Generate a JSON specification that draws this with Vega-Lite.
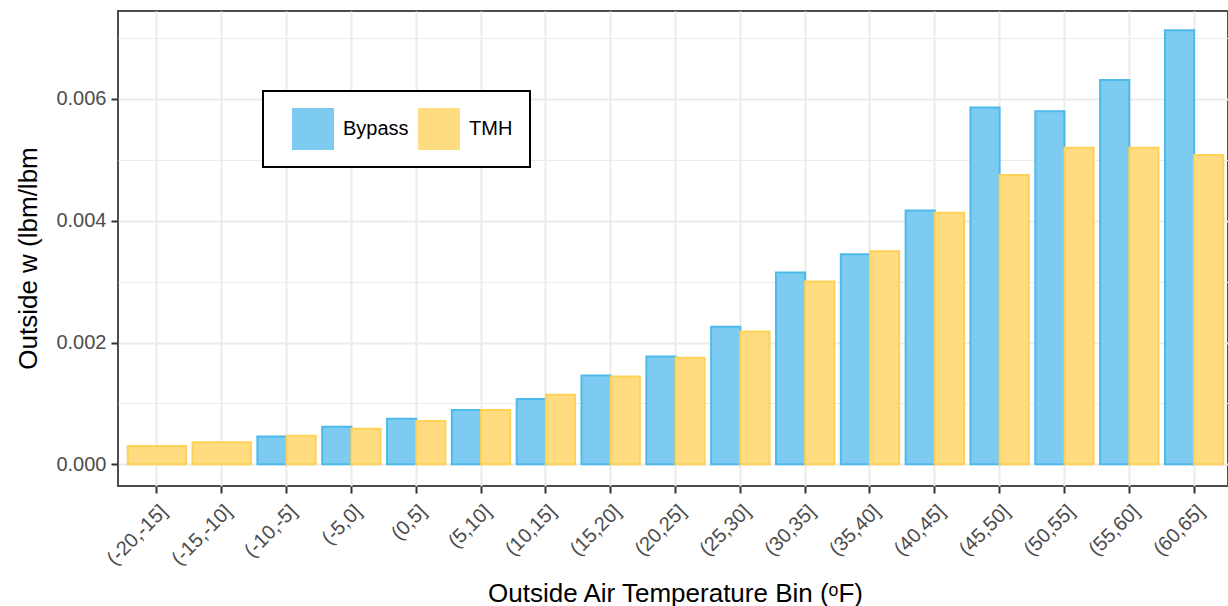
{
  "$schema": "https://vega.github.io/schema/vega-lite/v6.json",
  "width": 1110,
  "height": 475,
  "autosize": {"type": "none"},
  "padding": {"left": 118, "top": 11, "right": 0, "bottom": 120},
  "background": "white",
  "config": {
    "font": "Liberation Sans",
    "view": {"stroke": "#4d4d4d", "strokeWidth": 2},
    "legend": {"strokeWidth": 2}
  },
  "data": {
    "values": [
      {"bin": "(-20,-15]", "series": "TMH", "w": 0.000302},
      {"bin": "(-15,-10]", "series": "TMH", "w": 0.000363},
      {"bin": "(-10,-5]", "series": "Bypass", "w": 0.000455},
      {"bin": "(-10,-5]", "series": "TMH", "w": 0.000467},
      {"bin": "(-5,0]", "series": "Bypass", "w": 0.000615},
      {"bin": "(-5,0]", "series": "TMH", "w": 0.000582},
      {"bin": "(0,5]", "series": "Bypass", "w": 0.000747},
      {"bin": "(0,5]", "series": "TMH", "w": 0.000709},
      {"bin": "(5,10]", "series": "Bypass", "w": 0.00089},
      {"bin": "(5,10]", "series": "TMH", "w": 0.00089},
      {"bin": "(10,15]", "series": "Bypass", "w": 0.00107},
      {"bin": "(10,15]", "series": "TMH", "w": 0.00114},
      {"bin": "(15,20]", "series": "Bypass", "w": 0.00146},
      {"bin": "(15,20]", "series": "TMH", "w": 0.00144},
      {"bin": "(20,25]", "series": "Bypass", "w": 0.00177},
      {"bin": "(20,25]", "series": "TMH", "w": 0.00175},
      {"bin": "(25,30]", "series": "Bypass", "w": 0.00226},
      {"bin": "(25,30]", "series": "TMH", "w": 0.00218},
      {"bin": "(30,35]", "series": "Bypass", "w": 0.00315},
      {"bin": "(30,35]", "series": "TMH", "w": 0.00300},
      {"bin": "(35,40]", "series": "Bypass", "w": 0.00345},
      {"bin": "(35,40]", "series": "TMH", "w": 0.00350},
      {"bin": "(40,45]", "series": "Bypass", "w": 0.00417},
      {"bin": "(40,45]", "series": "TMH", "w": 0.00413},
      {"bin": "(45,50]", "series": "Bypass", "w": 0.00586},
      {"bin": "(45,50]", "series": "TMH", "w": 0.00475},
      {"bin": "(50,55]", "series": "Bypass", "w": 0.00580},
      {"bin": "(50,55]", "series": "TMH", "w": 0.00520},
      {"bin": "(55,60]", "series": "Bypass", "w": 0.00631},
      {"bin": "(55,60]", "series": "TMH", "w": 0.00520},
      {"bin": "(60,65]", "series": "Bypass", "w": 0.00713},
      {"bin": "(60,65]", "series": "TMH", "w": 0.00508}
    ]
  },
  "encoding": {
    "x": {
      "field": "bin",
      "type": "nominal",
      "sort": null,
      "scale": {
        "domain": ["(-20,-15]", "(-15,-10]", "(-10,-5]", "(-5,0]", "(0,5]", "(5,10]", "(10,15]", "(15,20]", "(20,25]", "(25,30]", "(30,35]", "(35,40]", "(40,45]", "(45,50]", "(50,55]", "(55,60]", "(60,65]"],
        "paddingInner": 0.1,
        "paddingOuter": 0.15,
        "range": [0, 1115]
      },
      "axis": {
        "title": "Outside Air Temperature Bin (ᵒF)",
        "titleFontSize": 26,
        "titleFontWeight": "normal",
        "titleColor": "black",
        "titleBaseline": "alphabetic",
        "titleX": 557,
        "titleY": 115,
        "domain": false,
        "grid": true,
        "gridColor": "#EBEBEB",
        "gridWidth": 2,
        "ticks": true,
        "tickSize": 7,
        "tickWidth": 2,
        "tickColor": "#333333",
        "labelAngle": 315,
        "labelAlign": "right",
        "labelBaseline": "top",
        "labelFontSize": 20,
        "labelColor": "#4d4d4d",
        "labelPadding": 8,
        "labelOverlap": false
      }
    },
    "y": {
      "field": "w",
      "type": "quantitative",
      "stack": null,
      "scale": {"domain": [-0.000357, 0.007445], "nice": false, "zero": false},
      "axis": {
        "title": "Outside w (lbm/lbm",
        "titleFontSize": 26,
        "titleFontWeight": "normal",
        "titleColor": "black",
        "titleBaseline": "alphabetic",
        "titleX": -82,
        "titleY": 247,
        "values": [0, 0.001, 0.002, 0.003, 0.004, 0.005, 0.006, 0.007],
        "format": ".3f",
        "labelExpr": "round(datum.value * 1000) % 2 == 1 ? '' : datum.label",
        "domain": false,
        "grid": true,
        "gridColor": "#EBEBEB",
        "gridWidth": {"condition": {"test": "round(datum.value * 1000) % 2 == 1", "value": 1}, "value": 2},
        "tickSize": 7,
        "tickWidth": 2,
        "tickColor": {"condition": {"test": "round(datum.value * 1000) % 2 == 1", "value": "transparent"}, "value": "#333333"},
        "labelFontSize": 20,
        "labelColor": "#4d4d4d",
        "labelPadding": 5
      }
    },
    "y2": {"datum": 0},
    "fill": {
      "field": "series",
      "type": "nominal",
      "scale": {"domain": ["Bypass", "TMH"], "range": ["#7DCBF0", "#FEDC7F"]},
      "legend": {
        "orient": "none",
        "legendX": 145,
        "legendY": 80,
        "direction": "horizontal",
        "title": " ",
        "titleOrient": "left",
        "titleFontSize": 1,
        "titlePadding": 12,
        "padding": 17,
        "strokeColor": "black",
        "fillColor": "white",
        "symbolType": "square",
        "symbolSize": 1764,
        "symbolStrokeWidth": 0,
        "symbolOpacity": 1,
        "labelFontSize": 20,
        "labelColor": "black",
        "labelOffset": 9,
        "columnPadding": 9
      }
    },
    "stroke": {
      "field": "series",
      "type": "nominal",
      "scale": {"domain": ["Bypass", "TMH"], "range": ["#4DBBEA", "#FED158"]},
      "legend": null
    }
  },
  "layer": [
    {
      "transform": [{"filter": "datum.bin != '(-20,-15]' && datum.bin != '(-15,-10]'"}],
      "mark": {"type": "bar", "strokeWidth": 2},
      "encoding": {
        "xOffset": {
          "field": "series",
          "type": "nominal",
          "scale": {"domain": ["Bypass", "TMH"], "paddingInner": 0, "paddingOuter": 0}
        }
      }
    },
    {
      "transform": [{"filter": "datum.bin == '(-20,-15]' || datum.bin == '(-15,-10]'"}],
      "mark": {"type": "bar", "strokeWidth": 2}
    }
  ]
}
